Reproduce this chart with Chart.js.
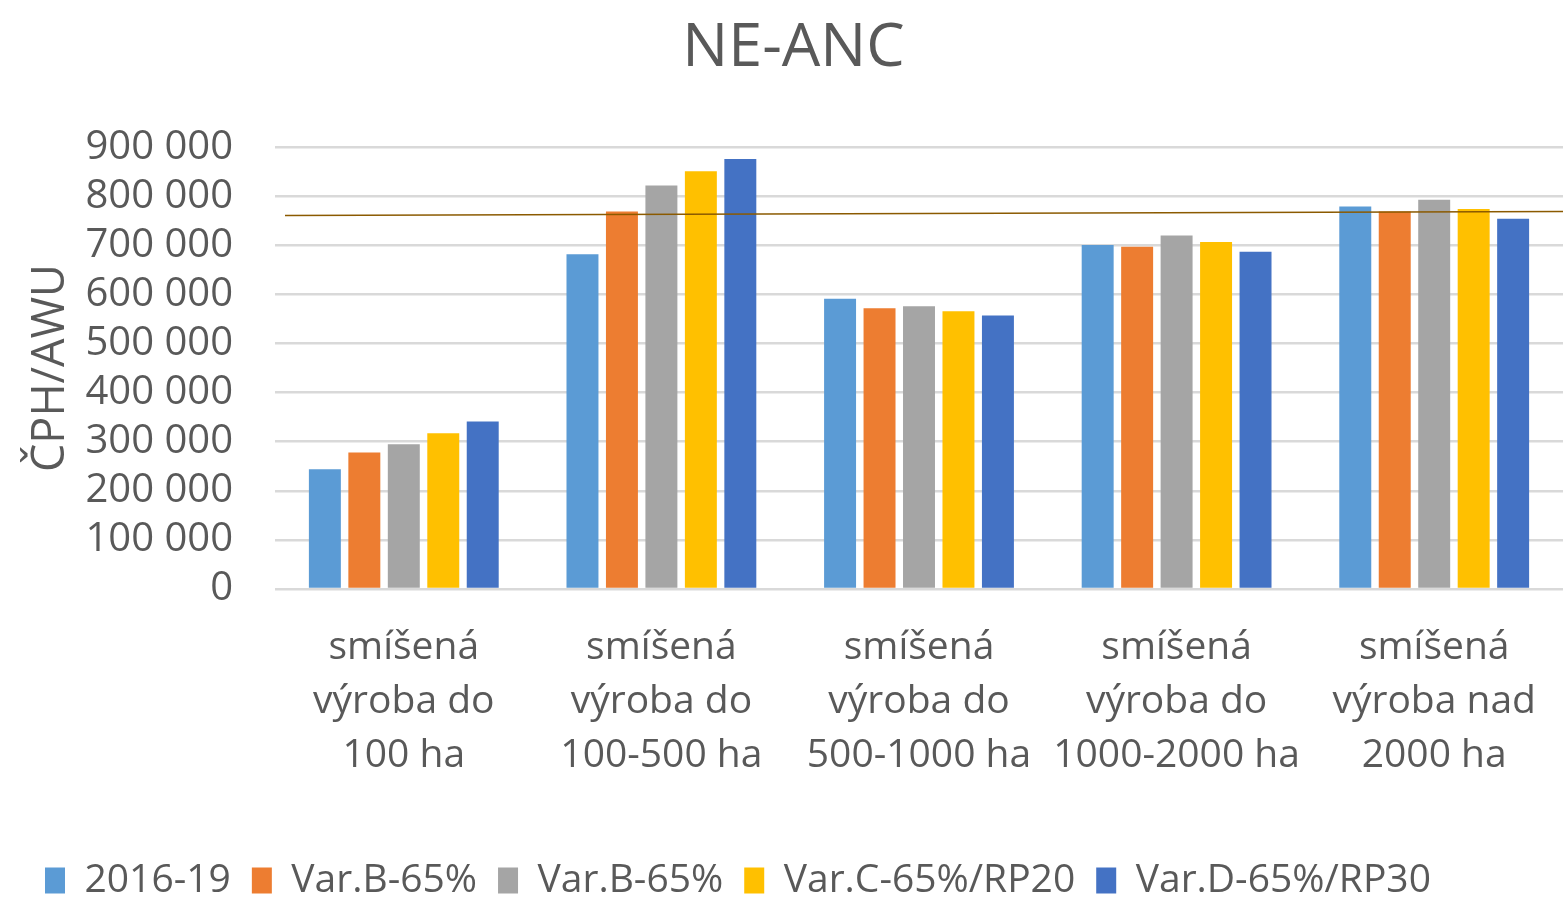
<!DOCTYPE html>
<html>
<head>
<meta charset="utf-8">
<script src="https://cdn.jsdelivr.net/npm/chart.js@4.4.1/dist/chart.umd.min.js"></script>
<style>
  html, body { margin: 0; padding: 0; background: #fff; }
  #wrap { width: 1563px; height: 905px; }
</style>
</head>
<body>
<div id="wrap"><canvas id="chart"></canvas></div>
<script>
const categories = [
  ['smíšená', 'výroba do', '100 ha'],
  ['smíšená', 'výroba do', '100-500 ha'],
  ['smíšená', 'výroba do', '500-1000 ha'],
  ['smíšená', 'výroba do', '1000-2000 ha'],
  ['smíšená', 'výroba nad', '2000 ha']
];
const seriesNames = ['2016-19', 'Var.B-65%', 'Var.B-65%', 'Var.C-65%/RP20', 'Var.D-65%/RP30'];
const s2016 = [244000, 682000, 591000, 701000, 779000];
const varB1 = [278000, 769000, 572000, 697000, 769000];
const varB2 = [295000, 822000, 576000, 720000, 793000];
const varC = [317000, 851000, 566000, 707000, 774000];
const varD = [341000, 876000, 557000, 687000, 754000];
const colors = ['#5B9BD5', '#ED7D31', '#A5A5A5', '#FFC000', '#4472C4'];
// the thin brown reference line, slightly tilted in the original
const refLineStart = 761000;
const refLineEnd = 769000;

const fontFamily = '"Open Sans", "Liberation Sans", sans-serif';
const textColor = '#595959';

const allSeries = [s2016, varB1, varB2, varC, varD];

const refLine = {
  id: 'refLine',
  afterDatasetsDraw(chart) {
    const { ctx, chartArea, scales } = chart;
    const y = scales.y;
    ctx.save();
    ctx.strokeStyle = '#8B5A00';
    ctx.lineWidth = 1.5;
    ctx.beginPath();
    ctx.moveTo(chartArea.left + 10, y.getPixelForValue(refLineStart));
    ctx.lineTo(chart.width, y.getPixelForValue(refLineEnd));
    ctx.stroke();
    ctx.restore();
  }
};

const fmt = v => String(v).replace(/\B(?=(\d{3})+(?!\d))/g, ' ');

new Chart(document.getElementById('chart'), {
  type: 'bar',
  data: {
    labels: categories,
    datasets: allSeries.map((data, i) => ({
      label: seriesNames[i],
      data: data,
      backgroundColor: colors[i],
      borderWidth: 0,
      categoryPercentage: 0.766,
      barPercentage: 0.81
    }))
  },
  options: {
    responsive: true,
    maintainAspectRatio: false,
    animation: false,
    layout: { padding: { left: 24, right: 0, top: 12, bottom: -5 } },
    plugins: {
      title: {
        display: true,
        text: 'NE-ANC',
        color: textColor,
        font: { family: fontFamily, size: 61, weight: 'normal' },
        padding: { top: 0, bottom: 62 }
      },
      legend: {
        position: 'bottom',
        align: 'start',
        labels: {
          color: textColor,
          font: { family: fontFamily, size: 39 },
          boxWidth: 20,
          boxHeight: 26,
          padding: 21
        }
      },
      tooltip: { enabled: false }
    },
    scales: {
      x: {
        grid: { display: false },
        border: { display: false },
        ticks: {
          color: textColor,
          font: { family: fontFamily, size: 39, lineHeight: 1.385 },
          padding: 24,
          maxRotation: 0,
          autoSkip: false
        },
        afterFit: scale => { scale.height += 33; }
      },
      y: {
        min: 0,
        max: 900000,
        ticks: {
          stepSize: 100000,
          autoSkip: false,
          color: textColor,
          font: { family: fontFamily, size: 40 },
          padding: 42,
          callback: v => fmt(v)
        },
        grid: { color: '#D9D9D9', lineWidth: 2.5, drawTicks: false },
        border: { display: false },
        title: {
          display: true,
          text: 'ČPH/AWU',
          color: textColor,
          font: { family: fontFamily, size: 45 },
          padding: { top: 0, bottom: 0 }
        },
        afterFit: scale => { scale.width = 251; }
      }
    }
  },
  plugins: [refLine]
});
</script>
</body>
</html>
